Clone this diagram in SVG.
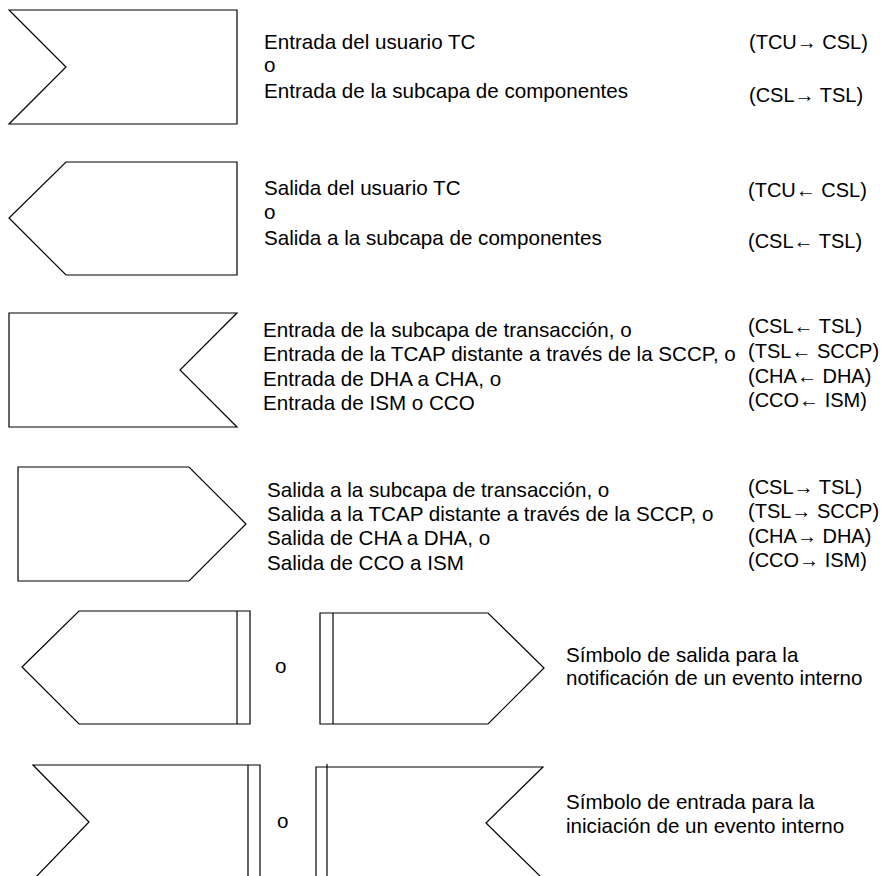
<svg xmlns="http://www.w3.org/2000/svg" width="887" height="876" viewBox="0 0 887 876">
<style>
.s{fill:#fff;stroke:#000;stroke-width:1.2}
.l{stroke:#000;stroke-width:1.2;fill:none}
text{font-family:"Liberation Sans",Arial,sans-serif;font-size:20.6px;fill:#000}
text.r{font-size:20px}
</style>
<rect width="887" height="876" fill="#fff"/>
<g id="sym1">
<polygon class="s" points="9,10 237,10 237,124 9,124 66,67"/>
<text x="264" y="49">Entrada del usuario TC</text>
<text x="264" y="72">o</text>
<text x="264" y="98">Entrada de la subcapa de componentes</text>
<text class="r" x="749" y="49">(TCU→ CSL)</text>
<text class="r" x="749" y="102">(CSL→ TSL)</text>
</g>
<g id="sym2">
<polygon class="s" points="66,162 237,162 237,275 66,275 9,218"/>
<text x="264" y="195">Salida del usuario TC</text>
<text x="264" y="219">o</text>
<text x="264" y="245">Salida a la subcapa de componentes</text>
<text class="r" x="748" y="197">(TCU← CSL)</text>
<text class="r" x="748" y="248">(CSL← TSL)</text>
</g>
<g id="sym3">
<polygon class="s" points="9,313 237,313 180,370 237,427 9,427"/>
<text x="263" y="337">Entrada de la subcapa de transacción, o</text>
<text x="263" y="361">Entrada de la TCAP distante a través de la SCCP, o</text>
<text x="263" y="386">Entrada de DHA a CHA, o</text>
<text x="263" y="410">Entrada de ISM o CCO</text>
<text class="r" x="748" y="333">(CSL← TSL)</text>
<text class="r" x="748" y="358">(TSL← SCCP)</text>
<text class="r" x="748" y="383">(CHA← DHA)</text>
<text class="r" x="748" y="407">(CCO← ISM)</text>
</g>
<g id="sym4">
<polygon class="s" points="18,467 189,467 246,524 189,581 18,581"/>
<text x="267" y="497">Salida a la subcapa de transacción, o</text>
<text x="267" y="521">Salida a la TCAP distante a través de la SCCP, o</text>
<text x="267" y="545">Salida de CHA a DHA, o</text>
<text x="267" y="570">Salida de CCO a ISM</text>
<text class="r" x="748" y="494">(CSL→ TSL)</text>
<text class="r" x="748" y="518">(TSL→ SCCP)</text>
<text class="r" x="748" y="543">(CHA→ DHA)</text>
<text class="r" x="748" y="567">(CCO→ ISM)</text>
</g>
<g id="sym5">
<polygon class="s" points="22,667 79,611 250,611 250,724 79,724"/>
<line class="l" x1="237" y1="611" x2="237" y2="724"/>
<text x="275" y="673">o</text>
<polygon class="s" points="320,613 488,613 544,668 488,724 320,724"/>
<line class="l" x1="333" y1="613" x2="333" y2="724"/>
<text x="566" y="662">Símbolo de salida para la</text>
<text x="566" y="685">notificación de un evento interno</text>
</g>
<g id="sym6">
<polygon class="s" points="33,765 260,765 260,880 33,880 89,822"/>
<line class="l" x1="248" y1="765" x2="248" y2="880"/>
<text x="277" y="828">o</text>
<polygon class="s" points="316,767 543,767 486,823 543,879 316,879"/>
<line class="l" x1="327" y1="764" x2="327" y2="880"/>
<text x="566" y="809">Símbolo de entrada para la</text>
<text x="566" y="833">iniciación de un evento interno</text>
</g>
<g id="connectors"></g>
</svg>
